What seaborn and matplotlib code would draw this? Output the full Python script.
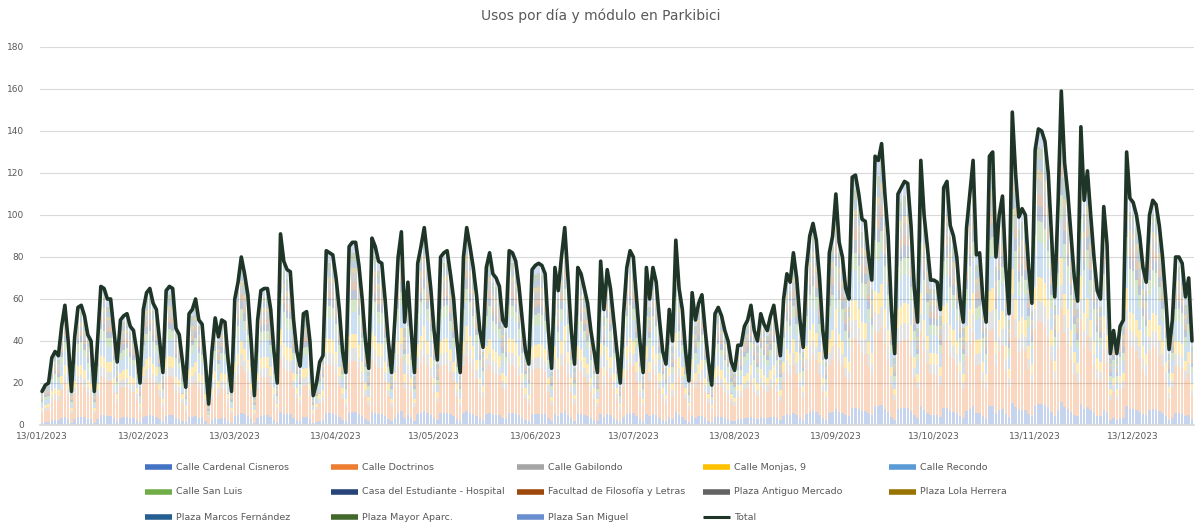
import pandas as pd
import numpy as np
import seaborn as sns
import matplotlib.pyplot as plt
import matplotlib.dates as mdates
from matplotlib.lines import Line2D

# Total uses per day (13/01/2023 - 31/12/2023)
jan = [16, 19, 20, 32, 35, 33, 47, 57, 40, 16, 42, 56, 57, 52, 43, 40, 16, 40, 66]
feb = [65, 60, 60, 45, 30, 50, 52, 53, 47, 45, 35, 20, 55, 63, 65, 58, 55, 40, 25,
       64, 66, 65, 46, 43, 30, 18, 53, 55]
mar = [60, 50, 48, 30, 10, 35, 51, 42, 50, 49, 30, 16, 60, 68, 80, 72, 62, 40, 14,
       50, 64, 65, 65, 55, 35, 20, 91, 78, 74, 73, 50]
apr = [35, 28, 53, 54, 40, 14, 20, 30, 33, 83, 82, 81, 70, 55, 35, 25, 85, 87, 87,
       76, 60, 40, 27, 89, 85, 78, 77, 60, 40, 25]
may = [50, 80, 92, 49, 68, 45, 25, 77, 85, 94, 80, 65, 45, 31, 80, 82, 83, 72, 60,
       40, 25, 80, 94, 85, 75, 62, 45, 37, 75, 82, 72]
jun = [70, 66, 50, 47, 83, 82, 78, 66, 50, 35, 29, 74, 76, 77, 76, 72, 45, 27, 75,
       64, 80, 94, 70, 45, 29, 75, 72, 65, 58, 45]
jul = [35, 25, 78, 55, 74, 65, 50, 35, 20, 53, 75, 83, 80, 60, 40, 25, 75, 60, 75,
       68, 50, 35, 29, 55, 40, 88, 65, 55, 35, 21, 63]
aug = [50, 58, 62, 45, 30, 19, 53, 56, 52, 45, 40, 30, 26, 38, 38, 47, 50, 57, 45,
       40, 53, 48, 45, 52, 57, 45, 33, 60, 72, 68, 82]
sep = [70, 50, 37, 75, 90, 96, 88, 70, 45, 32, 82, 90, 110, 87, 80, 65, 60, 118, 119,
       110, 98, 97, 80, 69, 128, 126, 134, 110, 90, 55]
oct_ = [34, 110, 113, 116, 115, 95, 65, 49, 126, 100, 85, 69, 69, 68, 55, 113, 116, 95,
        90, 80, 60, 49, 94, 110, 126, 81, 82, 60, 49, 128, 130]
nov = [80, 100, 109, 75, 53, 149, 120, 99, 103, 100, 75, 58, 131, 141, 140, 135, 120,
       90, 61, 105, 159, 125, 110, 90, 70, 59, 142, 107, 121, 100]
dec = [80, 64, 60, 104, 86, 34, 45, 34, 47, 50, 130, 108, 106, 100, 90, 75, 68, 100,
       107, 105, 95, 80, 60, 36, 50, 80, 80, 77, 61, 70, 40]

total = jan + feb + mar + apr + may + jun + jul + aug + sep + oct_ + nov + dec
dates = pd.date_range("2023-01-13", "2023-12-31", freq="D")

# Modules (stack order, bottom first) and their approximate share of the daily total
modulos = ["Calle Cardenal Cisneros", "Calle Doctrinos", "Calle Gabilondo", "Calle Monjas, 9",
           "Calle Recondo", "Calle San Luis", "Casa del Estudiante - Hospital",
           "Facultad de Filosofía y Letras", "Plaza Antiguo Mercado", "Plaza Lola Herrera",
           "Plaza Marcos Fernández", "Plaza Mayor Aparc.", "Plaza San Miguel"]
cuota = [0.07, 0.28, 0.07, 0.08, 0.12, 0.07, 0.05, 0.04, 0.05, 0.03, 0.04, 0.04, 0.06]
colores = ["#4472C4", "#ED7D31", "#A5A5A5", "#FFC000", "#5B9BD5", "#70AD47", "#264478",
           "#9E480E", "#636363", "#997300", "#255E91", "#43682B", "#698ED0"]
color_total = "#1E3528"

df = pd.DataFrame({"fecha": dates, "Total": total})
for m, c in zip(modulos, cuota):
    df[m] = df["Total"] * c

sns.set_theme(style="white")
plt.rcParams["font.family"] = ["DejaVu Sans"]

fig = plt.figure(figsize=(11.95, 5.27), dpi=100)
ax = fig.add_axes([40.4 / 1195, 1 - 425 / 527, 1153.2 / 1195, 378 / 527])

bottom = np.zeros(len(df))
for m, col in zip(modulos, colores):
    ax.bar(df["fecha"], df[m], bottom=bottom, width=0.75, color=col, alpha=0.3, linewidth=0)
    bottom += df[m].values

sns.lineplot(data=df, x="fecha", y="Total", ax=ax, color=color_total, lw=2.6)

ax.set_ylim(0, 180)
ax.set_yticks(range(0, 181, 20))
ax.set_xlim(pd.Timestamp("2023-01-12 12:00"), pd.Timestamp("2023-12-31 12:00"))
ax.set_xticks([pd.Timestamp(2023, m, 13) for m in range(1, 13)])
ax.xaxis.set_major_formatter(mdates.DateFormatter("%d/%m/%Y"))
ax.tick_params(axis="both", labelsize=6.5, colors="#595959", length=0)
ax.tick_params(axis="y", pad=12)
ax.tick_params(axis="x", pad=5)
ax.grid(axis="y", color="#D9D9D9", lw=0.8)
ax.set_axisbelow(True)
ax.set_xlabel("")
ax.set_ylabel("")
for s in ["top", "right", "left"]:
    ax.spines[s].set_visible(False)
ax.spines["bottom"].set_color("#D9D9D9")

fig.text(0.503, 1 - 16 / 527, "Usos por día y módulo en Parkibici", ha="center", va="center",
         fontsize=10, color="#595959")

# Legend laid out like Excel: 5 equal-width columns, 3 rows
etiquetas = modulos + ["Total"]
cols_leg = colores + [color_total]
for i, (lab, col) in enumerate(zip(etiquetas, cols_leg)):
    fila, columna = divmod(i, 5)
    x0 = 145 + 186 * columna
    y0 = 467 + 25 * fila
    lw = 2.2 if lab == "Total" else 4
    fig.add_artist(Line2D([x0 / 1195, (x0 + 27) / 1195], [1 - y0 / 527, 1 - y0 / 527],
                          color=col, lw=lw, solid_capstyle="butt"))
    fig.text((x0 + 31) / 1195, 1 - y0 / 527, lab, ha="left", va="center", fontsize=6.8,
             color="#595959")

fig.savefig("out.png", dpi=100)
